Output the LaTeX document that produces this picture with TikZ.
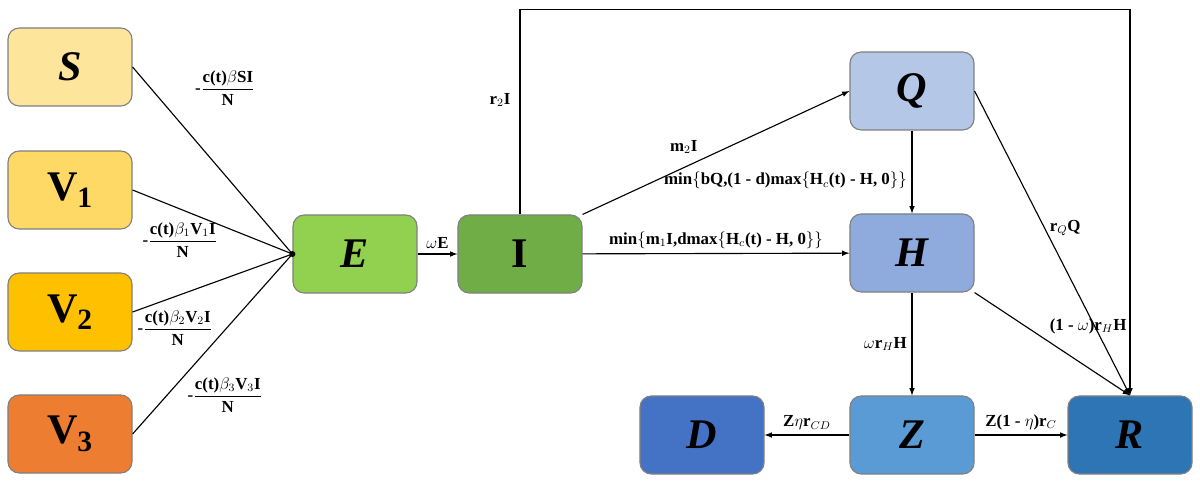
\documentclass[tikz,border=0pt]{standalone}
\usepackage{fontspec}
\setmainfont{Liberation Serif}
\usepackage{amsmath}
\usetikzlibrary{positioning,arrows}
\definecolor{cS}{HTML}{FEE59C}
\definecolor{cVa}{HTML}{FFD966}
\definecolor{cVb}{HTML}{FFC000}
\definecolor{cVc}{HTML}{ED7D31}
\definecolor{cE}{HTML}{92D050}
\definecolor{cI}{HTML}{70AD47}
\definecolor{cQ}{HTML}{B4C7E7}
\definecolor{cH}{HTML}{8FAADC}
\definecolor{cZ}{HTML}{5B9BD5}
\definecolor{cD}{HTML}{4472C4}
\definecolor{cR}{HTML}{2E75B6}
\tikzstyle{cbox}=[rectangle, rounded corners=8pt, draw=black!50, thick,
                  minimum width=31mm, minimum height=19.5mm, inner sep=0pt,
                  font=\fontsize{30}{30}\selectfont\bfseries]
\tikzstyle{pline}=[-latex, thick]
\tikzstyle{lbl}=[font=\fontsize{12}{13}\selectfont\bfseries]
\begin{document}
\begin{tikzpicture}[x=0.025cm,y=-0.025cm]
\useasboundingbox (0,0) rectangle (1200,487);

\node (S)  [cbox, fill=cS]  at (70,67)  {\textit{S}};
\node (V1) [cbox, fill=cVa] at (70,190) {V$_{\mathbf 1}$};
\node (V2) [cbox, fill=cVb] at (70,312) {V$_{\mathbf 2}$};
\node (V3) [cbox, fill=cVc] at (70,434) {V$_{\mathbf 3}$};
\node (E)  [cbox, fill=cE]  at (355,254) {\textit{E}};
\node (I)  [cbox, fill=cI]  at (520,254) {I};
\node (Q)  [cbox, fill=cQ]  at (912,91)  {\textit{Q}};
\node (H)  [cbox, fill=cH]  at (912,253) {\textit{H}};
\node (Z)  [cbox, fill=cZ]  at (912,435) {\textit{Z}};
\node (D)  [cbox, fill=cD]  at (702,435) {\textit{D}};
\node (R)  [cbox, fill=cR]  at (1130,435) {\textit{R}};

\coordinate (M) at (E.west);
\fill (M) circle (3);
\draw[thick] (S.east) -- (M);
\draw[thick] (V1.east) -- (M);
\draw[thick] (V2.east) -- (M);
\draw[thick] (V3.east) -- (M);
\node[lbl] at (225,88)  {-$\dfrac{\text{c(t)}\beta\text{SI}}{\text{N}}$};
\node[lbl] at (180,240) {-$\dfrac{\text{c(t)}\beta_1\text{V}_1\text{I}}{\text{N}}$};
\node[lbl] at (175,328) {-$\dfrac{\text{c(t)}\beta_2\text{V}_2\text{I}}{\text{N}}$};
\node[lbl] at (225,395) {-$\dfrac{\text{c(t)}\beta_3\text{V}_3\text{I}}{\text{N}}$};

\draw[pline] (E) -- node[lbl, above] {$\omega$E} (I);
\draw[pline] (I) -- node[lbl, above] {min$\{$m$_1$I,dmax$\{$H$_c$(t) - H, 0$\}\}$} (H);
\draw[pline] (I.north east) -- node[lbl, above left, pos=0.45] {m$_2$I} (Q.west);
\draw[pline] (Q) -- node[lbl, left, pos=0.6] {min$\{$bQ,(1 - d)max$\{$H$_c$(t) - H, 0$\}\}$} (H);
\draw[pline] (I.north) -- ++(0,-205) -| (R.north);
\node[lbl] at (500,100) {r$_2$I};
\draw[pline] (Q.east) -- node[lbl, right, pos=0.45] {r$_Q$Q} (R.north);
\draw[pline] (H.south east) -- node[lbl, above right, pos=0.45] {(1 - $\omega$)r$_H$H} (R.north);
\draw[pline] (H) -- node[lbl, left] {$\omega$r$_H$H} (Z);
\draw[pline] (Z) -- node[lbl, above] {Z$\eta$r$_{CD}$} (D);
\draw[pline] (Z) -- node[lbl, above] {Z(1 - $\eta$)r$_C$} (R);

\end{tikzpicture}
\end{document}
